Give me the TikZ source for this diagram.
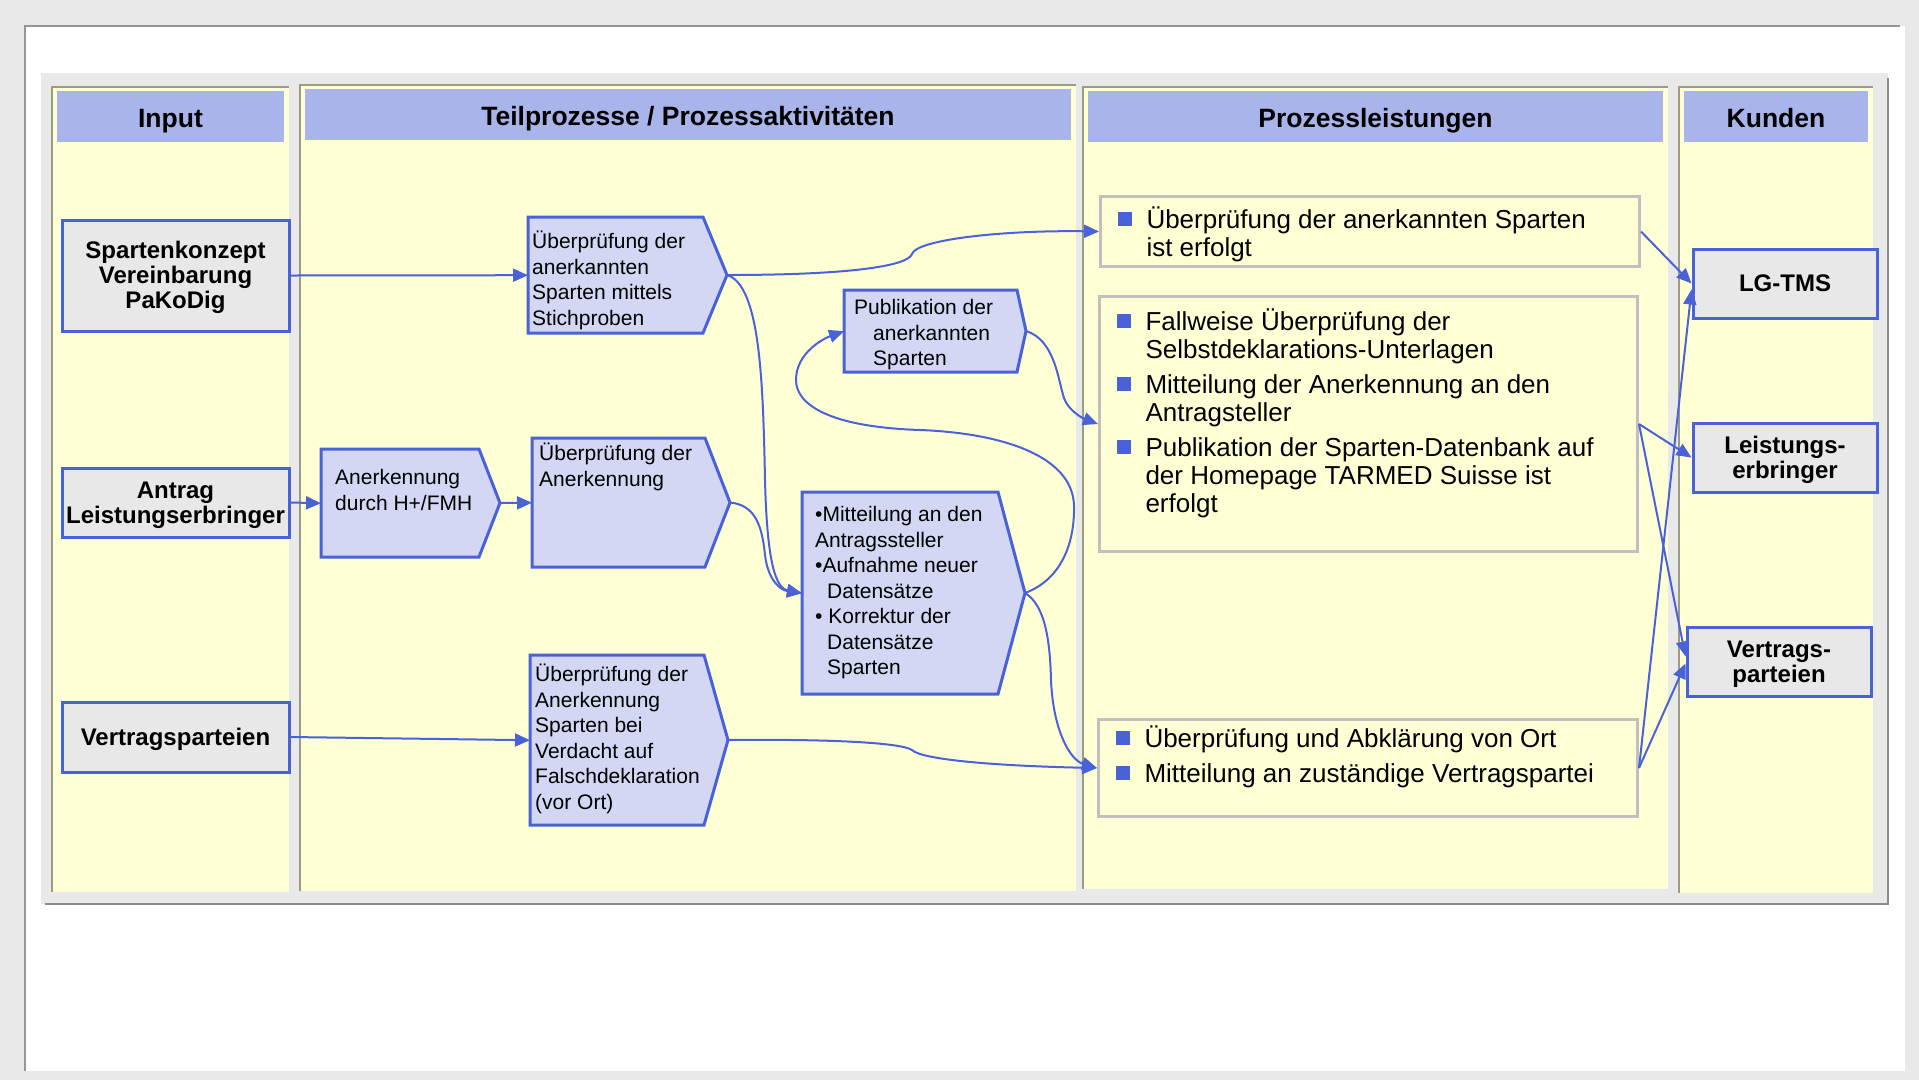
\documentclass[tikz,border=0pt]{standalone}
\usepackage{fontspec}
\setmainfont{Liberation Sans}
\usetikzlibrary{arrows.meta,calc}

\definecolor{pagegray}{RGB}{233,233,233}
\definecolor{framegray}{RGB}{150,150,150}
\definecolor{shadegray}{RGB}{140,140,140}
\definecolor{laneyellow}{RGB}{255,255,214}
\definecolor{laneline}{RGB}{156,156,134}
\definecolor{headblue}{RGB}{169,181,234}
\definecolor{boxblue}{RGB}{74,98,216}
\definecolor{boxgray}{RGB}{232,232,232}
\definecolor{procblue}{RGB}{211,215,243}
\definecolor{resgray}{RGB}{192,192,192}

\newcommand\sqitem{\par\noindent\hangindent=29pt\hangafter=1%
  \makebox[29pt][l]{\textcolor{boxblue}{\rule[3pt]{14pt}{14pt}}}}
\newcommand\capstrut{\rule{0pt}{.905em}}
\newcommand\descstrut{\rule[-.212em]{0pt}{.212em}}

\tikzset{
  lane/.style={fill=laneyellow},
  laneedge/.style={draw=laneline, line width=2pt},
  head/.style={fill=headblue, inner sep=0pt, minimum height=51pt,
    text height=21pt, text depth=0pt,
    font=\bfseries\fontsize{26.5}{30}\selectfont},
  inbox/.style={draw=boxblue, line width=3pt, fill=boxgray, align=center,
    inner sep=0pt, minimum width=227pt, minimum height=69pt,
    font=\bfseries\fontsize{24}{25}\selectfont},
  procshape/.style={draw=boxblue, line width=3pt, fill=procblue},
  proc/.style={anchor=north west, inner sep=0pt, font=\fontsize{21}{25.5}\selectfont},
  resbox/.style={draw=resgray, line width=3pt, fill=laneyellow, anchor=north west,
    inner sep=0pt, font=\fontsize{26}{28}\selectfont},
  con/.style={draw=boxblue, line width=2pt, -{Triangle[length=15pt,width=13pt]}}
}

\begin{document}
\begin{tikzpicture}[x=1pt,y=-1pt]
\useasboundingbox (0,0) rectangle (1919,1080);

% page and panel
\fill[pagegray] (0,0) rectangle (1919,1080);
\fill[white] (25,26) rectangle (1905,1071);
\draw[framegray, line width=2pt] (25,1071) -- (25,26) -- (1900,26);
\fill[pagegray] (41,73) rectangle (1888,904);
\draw[shadegray, line width=2.5pt] (45,904) -- (1888,904) -- (1888,78);

% lanes
\def\lanes{52/289/87/892/{Input},%
  300/1076/85/891/{Teilprozesse / Prozessaktivitäten},%
  1083/1668/87/889/{Prozessleistungen},%
  1679/1873/87/893/{Kunden}}
\foreach \xl/\xr/\yt/\yb/\lname [count=\i] in \lanes {
  \fill[lane] (\xl,\yt) rectangle (\xr,\yb);
  \draw[laneedge] (\xl,\yb) -- (\xl,\yt) -- (\xr,\yt);
  \node[head, minimum width=\xr pt-\xl pt-10pt] (h\i) at ({(\xl+\xr)/2},\yt+29.5) {\lname};
}

% input
\def\inputs{in1/275.5/111/{Spartenkonzept\\Vereinbarung\\PaKoDig},%
  in2/502.5/69/{Antrag\\Leistungserbringer},%
  in3/737/70/{Vertragsparteien}}
\foreach \n/\y/\hh/\txt in \inputs
  \node[inbox, minimum height=\hh pt] (\n) at (175.5,\y) {\capstrut\txt\descstrut};

% process steps
\def\procs{p1/528/217/703/727/116/4/14/{Überprüfung der\\anerkannten\\Sparten mittels\\Stichproben},%
  p2/321/449/479/500/108/14/20.5/{Anerkennung\\durch H+/FMH},%
  p3/532/438/705/730/129/7/5/{Überprüfung der\\Anerkennung},%
  p4/530/655/704/728/170/5/9/{Überprüfung der\\Anerkennung\\Sparten bei\\Verdacht auf\\Falschdeklaration\\(vor Ort)},%
  p5/844/290/1017/1026/82/10/9.5/{Publikation der\\\hspace*{19pt}anerkannten\\\hspace*{19pt}Sparten},%
  p6/802/492/998/1025/202/13/14.5/{•Mitteilung an den\\Antragssteller\\•Aufnahme neuer\\\hspace*{12pt}Datensätze\\• Korrektur der\\\hspace*{12pt}Datensätze\\\hspace*{12pt}Sparten}}
\foreach \n/\xl/\yt/\xr/\xp/\hh/\ix/\iy/\txt in \procs {
  \draw[procshape] (\xl,\yt) -- (\xr,\yt) -- (\xp,\yt+\hh/2) -- (\xr,\yt+\hh) -- (\xl,\yt+\hh) -- cycle;
  \coordinate (\n t) at (\xp,\yt+\hh/2);
  \node[proc] (\n) at (\xl,\yt) {\parbox[t][\hh pt][t]{\dimexpr\xr pt-\xl pt\relax}{\leftskip=\ix pt\relax\vspace*{\iy pt}\txt}};
}

% results
\def\results{r1/1099/195/1638/70/3.6/{\sqitem Überprüfung der anerkannten Sparten\\ist erfolgt},%
  r2/1098/295/1636/255/5.6/{\sqitem Fallweise Überprüfung der\\Selbstdeklarations-Unterlagen\sqitem Mitteilung der Anerkennung an den\\Antragsteller\sqitem Publikation der Sparten-Datenbank auf\\der Homepage TARMED Suisse ist\\erfolgt},%
  r3/1097/718/1636/97/-0.4/{\sqitem Überprüfung und Abklärung von Ort\sqitem Mitteilung an zuständige Vertragspartei}}
\foreach \n/\xl/\yt/\xr/\hh/\iy/\txt in \results
  \node[resbox] (\n) at (\xl,\yt) {\parbox[t][\hh pt][t]{\dimexpr\xr pt-\xl pt\relax}{\parskip=7pt\leftskip=17pt\relax\vspace*{\iy pt}\txt}};

% customers
\def\kunden{k1/1785/283.5/{LG-TMS},%
  k2/1785/457.5/{Leistungs-\\erbringer},%
  k3/1779/661.5/{Vertrags-\\parteien}}
\foreach \n/\x/\y/\txt in \kunden
  \node[inbox, minimum width=184pt] (\n) at (\x,\y) {\capstrut\txt\descstrut};

% connectors
\draw[con] (in1.east) -- (p1.west);
\draw[con] (in2.east) -- (p2.west);
\draw[con] (p2t) -- (p3.west);
\draw[con] (in3.east) -- (p4.west);
\draw[con] (p1t) .. controls (850,275) and (908,266) .. (912,254)
  .. controls (916,240) and (1000,230) .. (r1.west);
\draw[con] (p1t) .. controls (760,285) and (763,380) .. (765,480)
  .. controls (767,560) and (775,588) .. (p6.west);
\draw[con] (p3t) .. controls (755,505) and (762,525) .. (765,555)
  .. controls (768,580) and (780,590) .. (p6.west);
\draw[con] (p6t) .. controls (1060,580) and (1075,545) .. (1074,505)
  .. controls (1072,455) and (1000,433) .. (920,430)
  .. controls (830,427) and (796,405) .. (796,380)
  .. controls (796,352) and (825,338) .. (p5.west);
\draw[con] (p5t) .. controls (1055,340) and (1058,380) .. (1064,398)
  .. controls (1068,410) and (1082,418) .. (r2.west);
\draw[con] (p6t) .. controls (1045,605) and (1050,640) .. (1051,680)
  .. controls (1053,730) and (1070,760) .. (r3.west);
\draw[con] (p4t) .. controls (820,739) and (900,742) .. (912,750)
  .. controls (922,760) and (1000,766) .. (r3.west);
\draw[con] (r1.east) -- (k1.west);
\draw[con] (r2.east) -- (k2.west);
\draw[con] (r2.east) -- ([yshift=5pt]k3.west);
\draw[con] (r3.east) -- ([yshift=-6pt]k1.west);
\draw[con] (r3.east) -- ([yshift=-2pt]k3.west);

\end{tikzpicture}
\end{document}
